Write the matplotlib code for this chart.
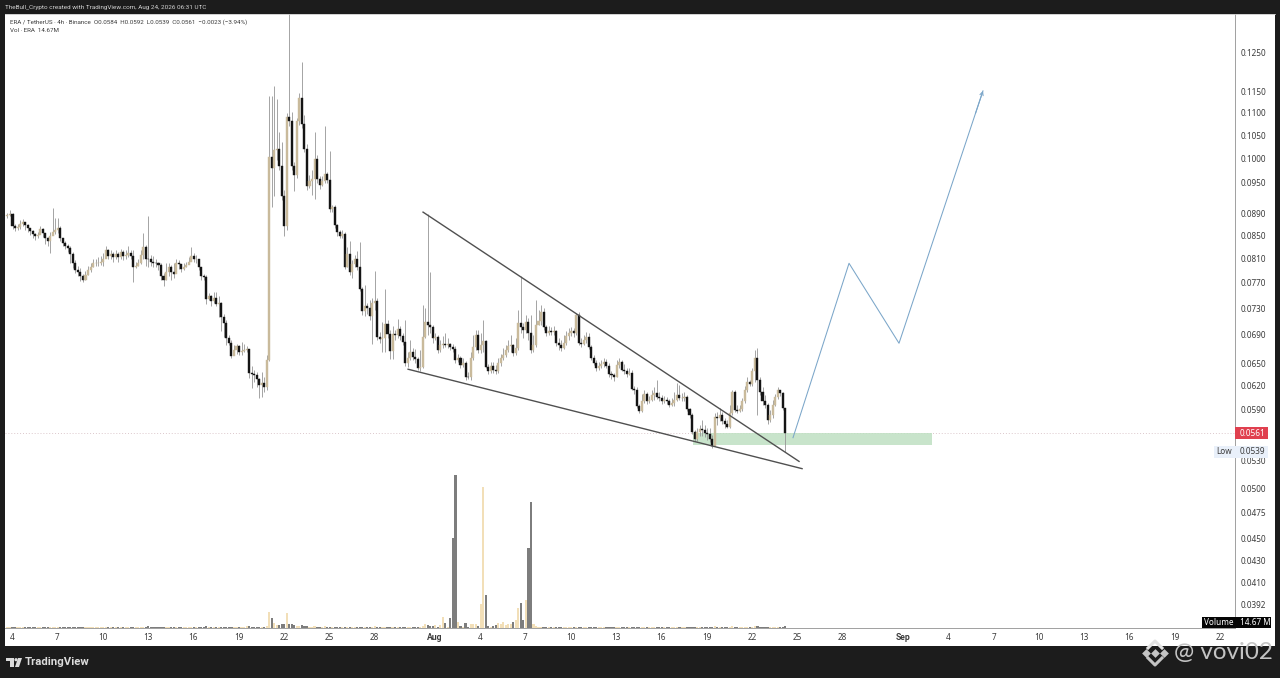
import matplotlib
matplotlib.use("Agg")
import matplotlib.pyplot as plt
from matplotlib.patches import Rectangle, Polygon, Circle

plt.rcParams['font.family'] = ['Noto Sans', 'DejaVu Sans']

# day numbers count from 30 June, so 4 July = 4, 1 Aug = 32, 1 Sep = 63
first_bar_day = 3.70
bar_days = 1 / 6  # 4h candles
first_open = 0.0885

closes = [
    .0888, .0890, .0867, .0863, .0865, .0871, .0874, .0869, .0863, .0858,
    .0852, .0849, .0851, .0862, .0855, .0846, .0840, .0849, .0856, .0860,
    .0863, .0846, .0837, .0832, .0828, .0818, .0802, .0791, .0787, .0781,
    .0775, .0782, .0791, .0795, .0802, .0803, .0803, .0805, .0810, .0825,
    .0814, .0818, .0812, .0818, .0812, .0821, .0814, .0816, .0819, .0814,
    .0796, .0798, .0802, .0816, .0830, .0810, .0809, .0805, .0803, .0802,
    .0799, .0781, .0775, .0787, .0795, .0787, .0784, .0803, .0801, .0793,
    .0796, .0799, .0805, .0814, .0810, .0810, .0795, .0781, .0780, .0744,
    .0749, .0741, .0746, .0736, .0738, .0717, .0707, .0686, .0679, .0660,
    .0669, .0674, .0666, .0667, .0669, .0670, .0637, .0635, .0634, .0629,
    .0621, .0624, .0618, .0655, .1002, .0980, .1017, .1019, .0984, .0924,
    .0867, .1091, .1082, .0984, .0966, .1082, .1135, .1075, .1019, .0943,
    .0953, .0957, .0998, .0957, .0945, .0953, .0968, .0955, .0899, .0903,
    .0869, .0856, .0849, .0853, .0796, .0818, .0787, .0801, .0809, .0796,
    .0760, .0726, .0733, .0730, .0718, .0738, .0741, .0687, .0684, .0686,
    .0706, .0691, .0667, .0691, .0690, .0698, .0689, .0680, .0651, .0658,
    .0666, .0659, .0656, .0644, .0645, .0687, .0709, .0705, .0702, .0686,
    .0687, .0668, .0675, .0677, .0675, .0677, .0672, .0670, .0655, .0658,
    .0648, .0651, .0632, .0631, .0658, .0672, .0690, .0668, .0675, .0681,
    .0645, .0640, .0647, .0641, .0639, .0651, .0658, .0662, .0668, .0674,
    .0675, .0664, .0671, .0707, .0702, .0697, .0709, .0693, .0668, .0675,
    .0705, .0711, .0724, .0702, .0693, .0696, .0694, .0696, .0678, .0675,
    .0671, .0679, .0689, .0693, .0696, .0693, .0720, .0678, .0677, .0683,
    .0687, .0672, .0658, .0651, .0644, .0647, .0649, .0652, .0647, .0635,
    .0634, .0632, .0648, .0652, .0641, .0639, .0636, .0637, .0616, .0614,
    .0594, .0588, .0601, .0610, .0600, .0602, .0608, .0611, .0606, .0604,
    .0601, .0602, .0600, .0596, .0598, .0602, .0608, .0604, .0604, .0606,
    .0590, .0583, .0563, .0555, .0563, .0566, .0565, .0561, .0560, .0555,
    .0546, .0581, .0579, .0583, .0576, .0572, .0569, .0585, .0612, .0589,
    .0588, .0590, .0600, .0615, .0625, .0623, .0639, .0658, .0628, .0612,
    .0600, .0596, .0577, .0583, .0596, .0606, .0614, .0611, .0592, .0561,
]
highs = [
    .0892, .0897, .0892, .0871, .0871, .0878, .0880, .0874, .0871, .0863,
    .0860, .0855, .0856, .0867, .0863, .0853, .0847, .0856, .0901, .0882,
    .0882, .0867, .0846, .0840, .0836, .0832, .0821, .0807, .0798, .0794,
    .0784, .0789, .0798, .0803, .0810, .0810, .0812, .0814, .0820, .0832,
    .0827, .0825, .0821, .0825, .0821, .0827, .0824, .0824, .0831, .0825,
    .0825, .0805, .0810, .0825, .0855, .0834, .0886, .0816, .0814, .0810,
    .0805, .0802, .0786, .0803, .0802, .0799, .0803, .0810, .0807, .0799,
    .0802, .0805, .0812, .0830, .0820, .0816, .0810, .0796, .0784, .0782,
    .0753, .0750, .0755, .0755, .0749, .0739, .0721, .0712, .0690, .0683,
    .0676, .0677, .0676, .0680, .0677, .0674, .0669, .0647, .0641, .0638,
    .0630, .0638, .0632, .0661, .1140, .1140, .1163, .1132, .1057, .1035,
    .0935, .1100, .1400, .1102, .0992, .1089, .1147, .1224, .1094, .1030,
    .0966, .0976, .1057, .1006, .0964, .0964, .1071, .0972, .1015, .0907,
    .0907, .0871, .0860, .0860, .0856, .0830, .0840, .0807, .0816, .0823,
    .0838, .0763, .0767, .0738, .0742, .0745, .0789, .0745, .0694, .0709,
    .0760, .0712, .0697, .0703, .0697, .0713, .0703, .0693, .0712, .0666,
    .0683, .0671, .0670, .0659, .0668, .0735, .0730, .0889, .0787, .0705,
    .0693, .0690, .0683, .0689, .0693, .0686, .0679, .0677, .0674, .0663,
    .0660, .0658, .0653, .0638, .0666, .0690, .0697, .0697, .0693, .0712,
    .0683, .0649, .0652, .0652, .0648, .0658, .0663, .0671, .0675, .0683,
    .0690, .0677, .0686, .0727, .0781, .0707, .0720, .0715, .0720, .0690,
    .0742, .0727, .0735, .0730, .0705, .0703, .0702, .0703, .0697, .0686,
    .0683, .0690, .0696, .0700, .0702, .0700, .0723, .0724, .0686, .0690,
    .0694, .0693, .0675, .0662, .0655, .0652, .0655, .0658, .0656, .0651,
    .0640, .0637, .0655, .0658, .0655, .0649, .0644, .0644, .0641, .0620,
    .0618, .0597, .0610, .0615, .0612, .0607, .0615, .0618, .0628, .0612,
    .0608, .0607, .0606, .0603, .0604, .0612, .0624, .0621, .0611, .0612,
    .0608, .0592, .0585, .0565, .0568, .0571, .0577, .0571, .0568, .0568,
    .0559, .0585, .0587, .0592, .0587, .0579, .0577, .0595, .0615, .0615,
    .0595, .0595, .0604, .0620, .0631, .0628, .0644, .0668, .0671, .0631,
    .0618, .0608, .0598, .0589, .0602, .0610, .0619, .0615, .0612, .0592,
]
lows = [
    .0882, .0886, .0862, .0858, .0860, .0862, .0867, .0860, .0856, .0851,
    .0846, .0842, .0846, .0853, .0848, .0836, .0831, .0819, .0851, .0853,
    .0855, .0840, .0832, .0826, .0821, .0803, .0794, .0786, .0781, .0772,
    .0771, .0775, .0782, .0787, .0795, .0798, .0798, .0799, .0798, .0812,
    .0809, .0810, .0805, .0810, .0805, .0810, .0807, .0810, .0812, .0809,
    .0771, .0794, .0798, .0801, .0810, .0798, .0796, .0798, .0796, .0795,
    .0791, .0774, .0765, .0774, .0781, .0775, .0777, .0795, .0793, .0787,
    .0791, .0795, .0801, .0809, .0805, .0803, .0791, .0775, .0775, .0737,
    .0742, .0733, .0738, .0733, .0717, .0696, .0687, .0676, .0675, .0658,
    .0662, .0663, .0662, .0661, .0665, .0666, .0630, .0617, .0625, .0619,
    .0604, .0606, .0612, .0615, .0653, .0903, .0924, .0996, .0976, .0916,
    .0849, .0860, .1071, .0976, .0933, .0959, .1073, .1066, .1013, .0935,
    .0939, .0926, .0918, .0949, .0937, .0943, .0949, .0949, .0893, .0893,
    .0863, .0849, .0845, .0845, .0793, .0795, .0782, .0777, .0795, .0791,
    .0756, .0720, .0718, .0721, .0712, .0677, .0727, .0683, .0679, .0665,
    .0665, .0686, .0656, .0656, .0683, .0686, .0683, .0676, .0647, .0645,
    .0655, .0655, .0651, .0641, .0640, .0643, .0686, .0690, .0693, .0679,
    .0683, .0664, .0666, .0671, .0672, .0671, .0668, .0666, .0651, .0652,
    .0644, .0645, .0628, .0629, .0628, .0655, .0668, .0664, .0664, .0666,
    .0643, .0636, .0637, .0637, .0636, .0637, .0647, .0655, .0659, .0666,
    .0666, .0660, .0662, .0668, .0693, .0686, .0693, .0683, .0664, .0666,
    .0672, .0705, .0705, .0697, .0689, .0690, .0690, .0690, .0674, .0668,
    .0667, .0670, .0675, .0683, .0689, .0687, .0690, .0675, .0672, .0675,
    .0679, .0670, .0655, .0648, .0640, .0641, .0644, .0645, .0643, .0632,
    .0629, .0626, .0631, .0644, .0639, .0635, .0632, .0634, .0614, .0610,
    .0592, .0585, .0587, .0598, .0597, .0598, .0600, .0602, .0603, .0601,
    .0597, .0598, .0597, .0593, .0594, .0594, .0601, .0602, .0601, .0601,
    .0588, .0580, .0560, .0552, .0552, .0558, .0558, .0557, .0553, .0551,
    .0544, .0546, .0571, .0576, .0572, .0568, .0568, .0568, .0583, .0587,
    .0585, .0587, .0588, .0598, .0612, .0620, .0620, .0625, .0583, .0608,
    .0596, .0592, .0572, .0575, .0580, .0594, .0603, .0607, .0589, .0539,
]
# volume in millions
volumes = [
    8, 7, 9, 7, 8, 6, 7, 8, 9, 7,
    8, 7, 6, 8, 7, 9, 8, 7, 10, 9,
    8, 7, 8, 7, 9, 8, 9, 7, 8, 7,
    9, 8, 7, 6, 8, 7, 6, 7, 8, 7,
    7, 6, 8, 7, 6, 7, 8, 6, 7, 8,
    9, 7, 8, 7, 10, 8, 12, 7, 6, 7,
    8, 9, 8, 7, 6, 7, 8, 9, 7, 8,
    7, 6, 7, 9, 8, 7, 8, 9, 7, 12,
    8, 7, 6, 8, 7, 9, 8, 9, 8, 9,
    7, 6, 7, 8, 7, 14, 12, 8, 7, 9,
    8, 10, 9, 15, 117, 73, 37, 22, 22, 29,
    29, 110, 29, 29, 22, 15, 18, 20, 15, 14,
    10, 9, 14, 10, 9, 8, 12, 8, 10, 8,
    9, 8, 7, 8, 10, 8, 10, 8, 8, 7,
    10, 9, 8, 8, 8, 9, 12, 10, 8, 8,
    10, 8, 9, 8, 7, 8, 7, 8, 10, 8,
    8, 7, 8, 8, 8, 14, 29, 22, 15, 12,
    22, 10, 22, 78, 34, 10, 73, 657, 1117, 44,
    15, 8, 33, 10, 29, 29, 29, 18, 175, 1029,
    241, 15, 8, 12, 22, 37, 29, 44, 22, 29,
    29, 44, 58, 146, 183, 58, 204, 584, 920, 29,
    12, 10, 9, 10, 8, 9, 8, 8, 9, 8,
    7, 8, 8, 7, 8, 8, 10, 9, 7, 7,
    8, 8, 8, 7, 7, 8, 7, 8, 7, 8,
    7, 7, 8, 7, 7, 7, 8, 7, 8, 7,
    9, 8, 8, 7, 8, 7, 7, 7, 8, 7,
    7, 7, 7, 8, 7, 8, 9, 8, 7, 7,
    8, 8, 9, 9, 8, 8, 9, 8, 8, 9,
    10, 12, 10, 9, 9, 8, 8, 10, 12, 9,
    8, 8, 9, 9, 9, 8, 10, 14, 12, 9,
    9, 8, 10, 8, 8, 8, 9, 8, 9, 14.67,
]

price_ticks = [0.1250, 0.1150, 0.1100, 0.1050, 0.1000, 0.0950, 0.0890, 0.0850,
               0.0810, 0.0770, 0.0730, 0.0690, 0.0650, 0.0620, 0.0590, 0.0530,
               0.0500, 0.0475, 0.0450, 0.0430, 0.0410, 0.0392]
date_ticks = [4, 7, 10, 13, 16, 19, 22, 25, 28, 32, 35, 38, 41, 44, 47, 50, 53,
              56, 59, 63, 66, 69, 72, 75, 78, 81, 84]
date_labels = ['4', '7', '10', '13', '16', '19', '22', '25', '28', 'Aug', '4', '7',
               '10', '13', '16', '19', '22', '25', '28', 'Sep', '4', '7', '10',
               '13', '16', '19', '22']

last_close = 0.0561
session_low = 0.0539
upper_line_days = [31.22, 56.12]
upper_line_prices = [0.0893, 0.0529]
lower_line_days = [30.23, 56.32]
lower_line_prices = [0.0642, 0.0521]
path_days = [55.72, 59.43, 62.74, 68.30]
path_prices = [0.0556, 0.0802, 0.0678, 0.1152]
zone_days = [49.1, 64.93]
zone_prices = [0.0547, 0.0561]

UP = '#c9ba9b'
DOWN = '#141414'
WICK = '#959595'
DARK = '#1c1c1c'
TEXT = '#3c3c3c'
BLUE = '#7ba6c9'

W, H = 1280, 678
fig = plt.figure(figsize=(W / 100, H / 100), dpi=100, facecolor=DARK)


def add_pixel_axes(zorder):
    a = fig.add_axes([0, 0, 1, 1], zorder=zorder)
    a.set_xlim(0, W)
    a.set_ylim(H, 0)
    a.axis('off')
    return a


back = add_pixel_axes(0)
back.add_patch(Rectangle((5, 14), 1270, 632, fc='white', ec='none'))

pos = [5 / W, (H - 628) / H, 1230 / W, 614 / H]
vol_ax = fig.add_axes(pos, zorder=1)
ax = fig.add_axes(pos, zorder=2)
ax.patch.set_alpha(0)

days = [first_bar_day + i * bar_days for i in range(len(closes))]
opens = [first_open] + closes[:-1]
bar_colors = [UP if c >= o else DOWN for o, c in zip(opens, closes)]
vol_colors = ['#f2dfb8' if c >= o else '#7d7d7d' for o, c in zip(opens, closes)]

# volume sits on its own scale under the candles
vol_ax.bar(days, volumes, width=0.14, color=vol_colors, linewidth=0)
vol_ax.set_xlim(3.536, 84.99)
vol_ax.set_ylim(0, 4482)
vol_ax.axis('off')

ax.set_yscale('log')
ax.axhline(last_close, color='#dcc8cc', lw=0.7, ls=(0, (1, 2)), zorder=1)
ax.add_patch(Rectangle((zone_days[0], zone_prices[0]), zone_days[1] - zone_days[0],
                       zone_prices[1] - zone_prices[0], fc='#bfe0c2', ec='none',
                       alpha=0.85, zorder=1.5))
ax.vlines(days, lows, highs, color=WICK, lw=0.6, zorder=2)
ax.bar(days, [abs(c - o) for o, c in zip(opens, closes)],
       bottom=[min(o, c) for o, c in zip(opens, closes)],
       width=0.135, color=bar_colors, edgecolor=bar_colors, linewidth=0.3, zorder=3)

ax.plot(upper_line_days, upper_line_prices, color='#505050', lw=1.0, zorder=4)
ax.plot(lower_line_days, lower_line_prices, color='#505050', lw=1.0, zorder=4)
ax.plot(path_days, path_prices, color=BLUE, lw=0.75, zorder=4)
# arrow head only, the last leg is already drawn
near_end = (path_days[-1] - 0.5 * (path_days[-1] - path_days[-2]) / 5.56,
            path_prices[-1] * (path_prices[-2] / path_prices[-1]) ** (0.5 / 5.56))
ax.annotate('', xy=(path_days[-1], path_prices[-1]), xytext=near_end,
            arrowprops=dict(arrowstyle='->', color=BLUE, lw=0.75, shrinkA=0,
                            shrinkB=0, mutation_scale=6))

ax.set_xlim(3.536, 84.99)
ax.set_ylim(0.03728, 0.13539)
ax.yaxis.tick_right()
ax.set_yticks(price_ticks)
ax.set_yticklabels([f'{p:.4f}' for p in price_ticks])
ax.minorticks_off()
ax.set_xticks(date_ticks)
ax.set_xticklabels(date_labels)
ax.tick_params(axis='y', length=0, pad=4.2, labelsize=5.9, labelcolor=TEXT)
ax.tick_params(axis='x', length=0, pad=3.5, labelsize=5.9, labelcolor=TEXT)
for lab in ax.get_xticklabels():
    if lab.get_text() in ('Aug', 'Sep'):
        lab.set_fontfamily('Roboto')
        lab.set_fontweight('bold')
        lab.set_fontsize(6.2)
for side in ('top', 'left'):
    ax.spines[side].set_visible(False)
for side in ('right', 'bottom'):
    ax.spines[side].set_color('#a0a0a0')
    ax.spines[side].set_linewidth(0.7)

top = add_pixel_axes(5)

# header and legend
top.text(5, 7, 'TheBull_Crypto created with TradingView.com, Aug 24, 2026 06:31 UTC',
         color='#d2d2d2', fontsize=4.55, family='Roboto', va='center')
top.text(10, 22, 'ERA / TetherUS · 4h · Binance  O0.0584  H0.0592  L0.0539  C0.0561  '
         '−0.0023 (−3.94%)', color=TEXT, fontsize=4.48, family='Roboto', va='center')
top.text(10, 31, f'Vol · ERA  {volumes[-1]:.2f}M', color=TEXT, fontsize=4.48,
         family='Roboto', va='center')
top.add_line(plt.Line2D([5, 1275], [14, 14], color='#c8c8c8', lw=0.6))

# price scale tags
top.add_patch(Rectangle((1235, 427), 33, 12, fc='#e0404f', ec='none'))
top.text(1240, 433, f'{last_close:.4f}', color='white', fontsize=5.9, va='center')
top.add_patch(Rectangle((1214, 446), 54, 12, fc='#e9f0fa', ec='none'))
top.text(1216, 452, 'Low', color=TEXT, fontsize=5.9, va='center')
top.text(1240, 452, f'{session_low:.4f}', color=TEXT, fontsize=5.9, va='center')
top.add_patch(Rectangle((1202, 617), 69, 11, fc='#050505', ec='none'))
top.text(1204, 622.5, 'Volume', color='white', fontsize=5.9, va='center')
top.text(1240, 622.5, f'{volumes[-1]:.2f} M', color='white', fontsize=5.9, va='center')

# TradingView footer
tv = '#dcdcdc'
top.add_patch(Polygon([(6, 658), (14, 658), (14, 667), (10, 667), (10, 661), (6, 661)],
                      fc=tv, ec='none'))
top.add_patch(Circle((16, 659.7), 1.6, fc=tv, ec='none'))
top.add_patch(Polygon([(18, 658), (22, 658), (19, 667), (15, 667)], fc=tv, ec='none'))
top.text(25, 662, 'TradingView', color=tv, fontsize=8.2, family='Roboto',
         fontweight='bold', va='center')

# watermark
wm = '#c4c4c4'
top.scatter([1146, 1155, 1164], [653, 653, 653], marker='D', s=20, c=wm, linewidths=0)
top.plot([1148, 1155, 1162], [648, 641, 648], color='#e2e2e2', lw=2.2)
top.plot([1148, 1155, 1162], [658, 665, 658], color=wm, lw=2.2)
top.text(1174, 652, '@ vovi02', color=wm, fontsize=17.4, family='Lato', va='center')

fig.savefig('out.png', dpi=100, facecolor=DARK)
